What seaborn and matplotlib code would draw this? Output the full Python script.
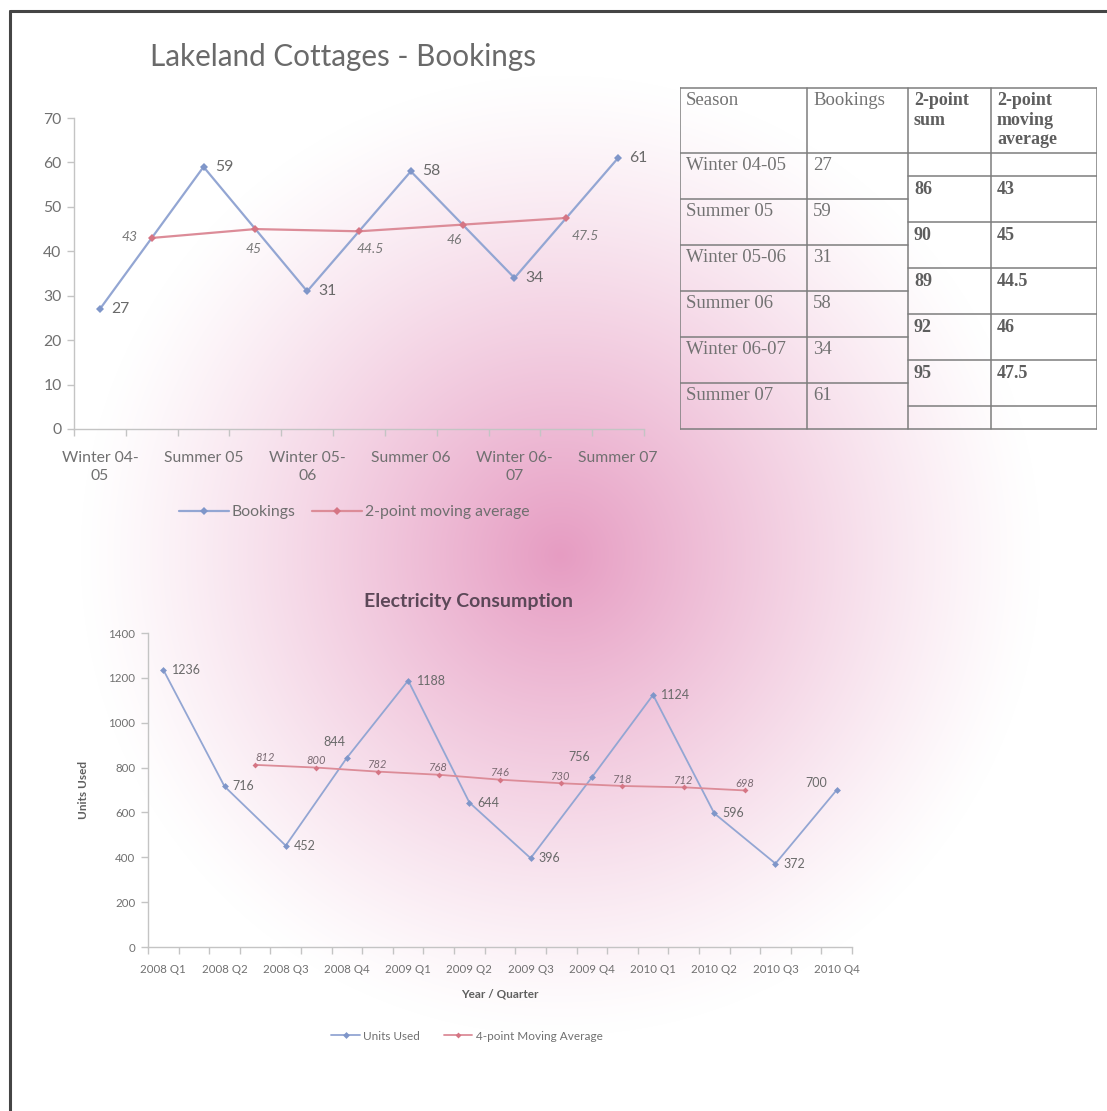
import numpy as np
import matplotlib
matplotlib.use("Agg")
import matplotlib.pyplot as plt
import seaborn as sns
from matplotlib.lines import Line2D

# ---- data ----
seasons = ["Winter 04-05", "Summer 05", "Winter 05-06", "Summer 06", "Winter 06-07", "Summer 07"]
season_ticklabels = ["Winter 04-\n05", "Summer 05", "Winter 05-\n06", "Summer 06", "Winter 06-\n07", "Summer 07"]
bookings = [27, 59, 31, 58, 34, 61]
two_point_sum = [86, 90, 89, 92, 95]
two_point_ma = [43, 45, 44.5, 46, 47.5]

quarters = ["2008 Q1", "2008 Q2", "2008 Q3", "2008 Q4", "2009 Q1", "2009 Q2",
            "2009 Q3", "2009 Q4", "2010 Q1", "2010 Q2", "2010 Q3", "2010 Q4"]
units_used = [1236, 716, 452, 844, 1188, 644, 396, 756, 1124, 596, 372, 700]
four_point_ma = [812, 800, 782, 768, 746, 730, 718, 712, 698]

# ---- page setup ----
W, H = 1107, 1111
sns.set_theme(style="white")
plt.rcParams["font.family"] = ["Lato", "DejaVu Sans"]

fig = plt.figure(figsize=(W / 100, H / 100), dpi=100)
fig.patch.set_facecolor("white")


def fx(px):
    return px / W


def fy(py):
    return 1 - py / H


# soft pink radial glow behind everything
bg = fig.add_axes([0, 0, 1, 1], zorder=-10)
yy, xx = np.mgrid[0:H, 0:W]
r = np.hypot(xx - 560, yy - 555)
a = np.clip(1 - r / 480, 0, 1) ** 1.2
pink = np.array([230, 156, 194]) / 255
img = 1 - a[..., None] * (1 - pink)
bg.imshow(img, aspect="auto", extent=(0, W, H, 0))
bg.set_xlim(0, W)
bg.set_ylim(H, 0)
bg.axis("off")

# page frame (top and left edges)
fig.add_artist(Line2D([fx(9.5), fx(9.5)], [fy(11), fy(H + 5)], color="#454545", lw=2.2))
fig.add_artist(Line2D([fx(9.5), fx(W + 5)], [fy(11), fy(11)], color="#454545", lw=2.2))

BLUE = "#93a6d3"
BLUE_M = "#7f96c9"
RED = "#dc8c98"
RED_M = "#d57584"
AX_COL = "#c4c4c4"
TXT = "#707070"


def style_axes(ax, tick_size):
    ax.set_facecolor("none")
    for s in ("top", "right"):
        ax.spines[s].set_visible(False)
    for s in ("left", "bottom"):
        ax.spines[s].set_color(AX_COL)
        ax.spines[s].set_linewidth(1.0)
    ax.tick_params(axis="y", which="major", left=True, length=5, width=1,
                   color=AX_COL, labelcolor=TXT, labelsize=tick_size, pad=4)
    ax.tick_params(axis="x", which="major", bottom=True, length=5, width=1,
                   color=AX_COL, labelbottom=False)
    ax.tick_params(axis="x", which="minor", bottom=False, length=0,
                   labelcolor=TXT, labelsize=tick_size)
    ax.grid(False)


# ---- top chart: bookings ----
ax1 = fig.add_axes([fx(74), fy(429), 570 / W, 311 / H])
x_book = np.arange(len(bookings)) * 2
x_ma2 = np.arange(len(two_point_ma)) * 2 + 1

sns.lineplot(x=x_book, y=bookings, ax=ax1, color=BLUE, lw=1.6, marker="D",
             markersize=4.5, markeredgewidth=0, markerfacecolor=BLUE_M, label="Bookings")
sns.lineplot(x=x_ma2, y=two_point_ma, ax=ax1, color=RED, lw=1.6, marker="D",
             markersize=4.5, markeredgewidth=0, markerfacecolor=RED_M,
             label="2-point moving average")
ax1.set_xlim(-0.5, len(bookings) * 2 - 1.5)
ax1.set_ylim(0, 70)
ax1.set_yticks(np.arange(0, 71, 10))
ax1.set_xticks(np.arange(-0.5, len(bookings) * 2 - 1, 1))
ax1.set_xticks(x_book, season_ticklabels, minor=True)
style_axes(ax1, 11.3)
ax1.tick_params(axis="x", which="minor", pad=16)
for lab in ax1.get_xticklabels(minor=True):
    lab.set_linespacing(1.35)

h1, l1 = ax1.get_legend_handles_labels()
ax1.get_legend().remove()

for xv, yv in zip(x_book, bookings):
    ax1.annotate(f"{yv}", (xv, yv), xytext=(8, 0), textcoords="offset points",
                 ha="left", va="center", fontsize=11.3, color="#6a6a6a")

ma2_offsets = [(-16, 1), (-1, -14), (8, -13), (-6, -11), (14, -13)]
for xv, yv, (dx, dy) in zip(x_ma2, two_point_ma, ma2_offsets):
    ax1.annotate(f"{yv:g}", (xv, yv), xytext=(dx, dy), textcoords="offset points",
                 ha="center", va="center", fontsize=10, style="italic", color="#787878")

fig.text(fx(343), fy(57), "Lakeland Cottages - Bookings", ha="center", va="center",
         fontsize=21.3, color="#6a6a6a")
fig.legend(h1, l1, loc="center", bbox_to_anchor=(fx(354), fy(512)), ncol=2,
           frameon=False, fontsize=11.3, handlelength=3.2, handletextpad=0.2,
           columnspacing=1.0, labelcolor="#6f6f6f")

# ---- table ----
tax = fig.add_axes([fx(680), fy(430), (1097 - 680) / W, (430 - 87) / H])
tax.set_xlim(680, 1097)
tax.set_ylim(430, 87)
tax.axis("off")
LINE = "#7d7d7d"
cols = [680, 807, 908, 991, 1097]
top, head, bottom = 88, 153, 429
for cx in cols:
    tax.plot([cx, cx], [top, bottom], color=LINE, lw=1.1)
tax.plot([cols[0], cols[-1]], [top, top], color=LINE, lw=1.1)
tax.plot([cols[0], cols[-1]], [head, head], color=LINE, lw=1.1)
tax.plot([cols[0], cols[-1]], [bottom, bottom], color=LINE, lw=1.1)
row_h = (bottom - head) / len(seasons)
for k in range(1, len(seasons)):
    yk = head + k * row_h
    tax.plot([cols[0], cols[2]], [yk, yk], color=LINE, lw=1.1)
for k in range(len(seasons)):
    yk = head + row_h / 2 + k * row_h
    tax.plot([cols[2], cols[4]], [yk, yk], color=LINE, lw=1.1)

SERIF = ["Liberation Serif", "DejaVu Serif"]
T_NORM = "#727272"
T_BOLD = "#5e5e5e"
tax.text(cols[0] + 6, top + 4, "Season", family=SERIF, fontsize=13.5, color=T_NORM, va="top")
tax.text(cols[1] + 6, top + 4, "Bookings", family=SERIF, fontsize=13.5, color=T_NORM, va="top")
tax.text(cols[2] + 6, top + 4, "2-point\nsum", family=SERIF, fontsize=13, color=T_BOLD,
         va="top", weight="bold", linespacing=1.2)
tax.text(cols[3] + 6, top + 4, "2-point\nmoving\naverage", family=SERIF, fontsize=13,
         color=T_BOLD, va="top", weight="bold", linespacing=1.2)
for k, (s, b) in enumerate(zip(seasons, bookings)):
    yk = head + k * row_h + 4
    tax.text(cols[0] + 6, yk, s, family=SERIF, fontsize=13.5, color=T_NORM, va="top")
    tax.text(cols[1] + 6, yk, f"{b}", family=SERIF, fontsize=13.5, color=T_NORM, va="top")
for k, (sm, mv) in enumerate(zip(two_point_sum, two_point_ma)):
    yk = head + row_h / 2 + k * row_h + 5
    tax.text(cols[2] + 6, yk, f"{sm}", family=SERIF, fontsize=13, color=T_BOLD,
             va="top", weight="bold")
    tax.text(cols[3] + 6, yk, f"{mv:g}", family=SERIF, fontsize=13, color=T_BOLD,
             va="top", weight="bold")

# ---- bottom chart: electricity ----
ax2 = fig.add_axes([fx(148), fy(947), 704 / W, 314 / H])
x_units = np.arange(len(units_used)) * 2
x_ma4 = np.arange(len(four_point_ma)) * 2 + 3

sns.lineplot(x=x_units, y=units_used, ax=ax2, color=BLUE, lw=1.3, marker="D",
             markersize=3.5, markeredgewidth=0, markerfacecolor=BLUE_M, label="Units Used")
sns.lineplot(x=x_ma4, y=four_point_ma, ax=ax2, color=RED, lw=1.3, marker="D",
             markersize=3, markeredgewidth=0, markerfacecolor=RED_M,
             label="4-point Moving Average")
ax2.set_xlim(-0.5, len(units_used) * 2 - 1.5)
ax2.set_ylim(0, 1400)
ax2.set_yticks(np.arange(0, 1401, 200))
ax2.set_xticks(np.arange(-0.5, len(units_used) * 2 - 1, 1))
ax2.set_xticks(x_units, quarters, minor=True)
style_axes(ax2, 8.3)
ax2.tick_params(axis="x", which="minor", pad=12)
ax2.set_xlabel("Year / Quarter", fontsize=8.5, weight="bold", color="#5f5f5f", labelpad=10)
ax2.set_ylabel("Units Used", fontsize=8.5, weight="bold", color="#5f5f5f", labelpad=14)

h2, l2 = ax2.get_legend_handles_labels()
ax2.get_legend().remove()

unit_offsets = {3: (-9, 11, "center"), 7: (-9, 15, "center"), 11: (-15, 5, "center")}
for i, (xv, yv) in enumerate(zip(x_units, units_used)):
    dx, dy, ha = unit_offsets.get(i, (6, 0, "left"))
    ax2.annotate(f"{yv}", (xv, yv), xytext=(dx, dy), textcoords="offset points",
                 ha=ha, va="center", fontsize=9, color="#6a6a6a")

for i, (xv, yv) in enumerate(zip(x_ma4, four_point_ma)):
    dx = 7 if i == 0 else 0
    ax2.annotate(f"{yv}", (xv, yv), xytext=(dx, 5), textcoords="offset points",
                 ha="center", va="center", fontsize=8, style="italic", color="#7a6a72")

fig.text(fx(468), fy(601), "Electricity Consumption", ha="center", va="center",
         fontsize=14, weight="bold", color="#5c4858")
fig.legend(h2, l2, loc="center", bbox_to_anchor=(fx(467), fy(1036)), ncol=2,
           frameon=False, fontsize=8.5, handlelength=2.4, handletextpad=0.3,
           columnspacing=2.0, labelcolor="#707070")

fig.savefig("out.png", dpi=100, facecolor="white")
